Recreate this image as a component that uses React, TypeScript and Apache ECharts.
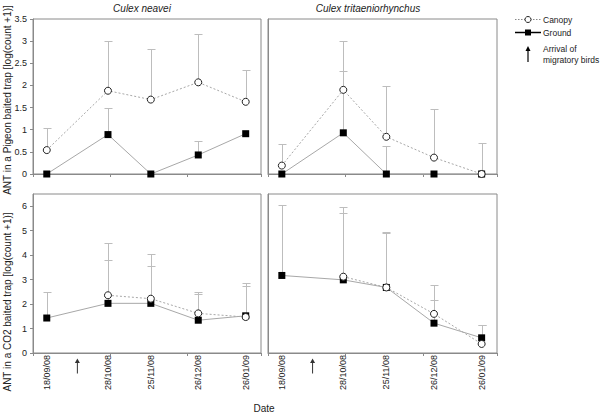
import React, { useEffect, useRef } from "react";
import * as echarts from "echarts";

// ---- Data ----
const dayOffsets = [0, 40, 68, 99, 130]; // days since 18/09/08
const dateLabels = ["18/09/08", "28/10/08", "25/11/08", "26/12/08", "26/01/09"];
const arrivalDay = [20];
const xTickDays = [-9, 41.5, 92, 140];
const speciesTitles = ["Culex neavei", "Culex tritaeniorhynchus"];
const yTitles = ["ANT in a Pigeon baited trap [log(count +1)]", "ANT in a CO2 baited trap [log(count +1)]"];

// Pigeon-baited trap
const neaveiPigeonCanopy = [0.54, 1.88, 1.68, 2.07, 1.63];
const neaveiPigeonCanopyUpper = [1.03, 3.01, 2.83, 3.16, 2.34];
const neaveiPigeonGround = [0, 0.89, 0, 0.43, 0.91];
const neaveiPigeonGroundUpper = [null, 1.48, null, 0.74, null];

const tritPigeonCanopy = [0.19, 1.9, 0.84, 0.37, 0];
const tritPigeonCanopyUpper = [0.68, 3.01, 1.98, 1.47, 0.69];
const tritPigeonGround = [0, 0.93, 0, 0, 0];
const tritPigeonGroundUpper = [null, 2.32, 0.63, null, null];

// CO2-baited trap
const neaveiCO2Canopy = [null, 2.36, 2.22, 1.62, 1.47];
const neaveiCO2CanopyUpper = [null, 4.5, 4.06, 2.5, 2.86];
const neaveiCO2Ground = [1.43, 2.03, 2.03, 1.34, 1.52];
const neaveiCO2GroundUpper = [2.49, 3.81, 3.56, 2.41, 2.75];

const tritCO2Canopy = [null, 3.12, 2.68, 1.6, 0.37];
const tritCO2CanopyUpper = [null, 5.96, 4.96, 2.79, 1.15];
const tritCO2Ground = [3.17, 2.99, 2.68, 1.22, 0.62];
const tritCO2GroundUpper = [6.04, 5.72, 4.9, 2.16, 1.16];

const FONT = "'Liberation Sans', Arial, sans-serif";
const BORDER = "#8a8a8a";
const ERR = "#bdbdbd";
const LINE = "#a8a8a8";
const TEXT = "#222";

function pairs(vals: (number | null)[]) {
  return dayOffsets.map((d, i) => [d, vals[i] === null ? null : vals[i]]);
}
function errData(vals: (number | null)[], upper: (number | null)[]) {
  const out: number[][] = [];
  dayOffsets.forEach((d, i) => {
    const v = vals[i];
    const u = upper[i];
    if (v !== null && u !== null && u > v) out.push([d, v, u]);
  });
  return out;
}

const renderErr = (params: any, api: any) => {
  const x = api.value(0);
  const p0 = api.coord([x, api.value(1)]);
  const p1 = api.coord([x, api.value(2)]);
  const cx = Math.round(p0[0]) + 0.5;
  const ty = Math.round(p1[1]) + 0.5;
  return {
    type: "group",
    children: [
      { type: "line", shape: { x1: cx, y1: p0[1], x2: cx, y2: ty }, style: { stroke: ERR, lineWidth: 1 } },
      { type: "line", shape: { x1: cx - 4, y1: ty, x2: cx + 4, y2: ty }, style: { stroke: ERR, lineWidth: 1 } },
    ],
  };
};

export default function App() {
  const ref = useRef<HTMLDivElement>(null);
  useEffect(() => {
    if (!ref.current) return;
    const chart = echarts.init(ref.current, undefined, { renderer: "svg" });

    const grids = [
      { left: 33, top: 19, width: 228, height: 155 },
      { left: 268, top: 19, width: 229, height: 155 },
      { left: 33, top: 194, width: 228, height: 159 },
      { left: 268, top: 194, width: 229, height: 159 },
    ].map((g) => ({ ...g, show: true, borderColor: BORDER, borderWidth: 1, containLabel: false }));

    const xAxes = grids.map((_, i) => ({
      type: "value",
      gridIndex: i,
      min: -9,
      max: 140,
      splitLine: { show: false },
      axisLine: { show: true, onZero: false, lineStyle: { color: BORDER } },
      axisTick: { show: true, length: 3, customValues: xTickDays, lineStyle: { color: BORDER } },
      axisLabel: {
        show: i >= 2,
        customValues: dayOffsets,
        rotate: 90,
        fontSize: 9,
        fontFamily: FONT,
        color: TEXT,
        margin: 2,
        formatter: (v: number) => {
          const k = dayOffsets.indexOf(Math.round(v));
          return k >= 0 ? dateLabels[k] : "";
        },
      },
    }));

    const yAxes = grids.map((_, i) => {
      const top = i < 2;
      const left = i % 2 === 0;
      return {
        type: "value",
        gridIndex: i,
        min: 0,
        max: top ? 3.5 : 6.5,
        interval: top ? 0.5 : 1,
        splitLine: { show: false },
        axisLine: { show: true, onZero: false, lineStyle: { color: BORDER } },
        axisTick: { show: left, length: 3, lineStyle: { color: BORDER } },
        axisLabel: {
          show: left,
          showMaxLabel: top ? true : false,
          fontSize: 9,
          fontFamily: FONT,
          color: TEXT,
          margin: 6,
        },
      };
    });

    const panels = [
      { c: neaveiPigeonCanopy, cu: neaveiPigeonCanopyUpper, g: neaveiPigeonGround, gu: neaveiPigeonGroundUpper },
      { c: tritPigeonCanopy, cu: tritPigeonCanopyUpper, g: tritPigeonGround, gu: tritPigeonGroundUpper },
      { c: neaveiCO2Canopy, cu: neaveiCO2CanopyUpper, g: neaveiCO2Ground, gu: neaveiCO2GroundUpper },
      { c: tritCO2Canopy, cu: tritCO2CanopyUpper, g: tritCO2Ground, gu: tritCO2GroundUpper },
    ];

    const series: any[] = [];
    panels.forEach((p, i) => {
      series.push({
        type: "custom",
        xAxisIndex: i,
        yAxisIndex: i,
        renderItem: renderErr,
        encode: { x: 0, y: [1, 2] },
        data: errData(p.g, p.gu),
        z: 1,
        clip: false,
      });
      series.push({
        type: "custom",
        xAxisIndex: i,
        yAxisIndex: i,
        renderItem: renderErr,
        encode: { x: 0, y: [1, 2] },
        data: errData(p.c, p.cu),
        z: 1,
        clip: false,
      });
      series.push({
        type: "line",
        name: "Ground",
        xAxisIndex: i,
        yAxisIndex: i,
        data: pairs(p.g),
        symbol: "rect",
        symbolSize: 7,
        showAllSymbol: true,
        lineStyle: { color: LINE, width: 1 },
        itemStyle: { color: "#000", borderColor: "#000", borderWidth: 0 },
        z: 3,
        clip: false,
      });
      series.push({
        type: "line",
        name: "Canopy",
        xAxisIndex: i,
        yAxisIndex: i,
        data: pairs(p.c),
        symbol: "circle",
        symbolSize: 7,
        showAllSymbol: true,
        connectNulls: false,
        lineStyle: { color: LINE, width: 1, type: [2, 2] },
        itemStyle: { color: "#fff", borderColor: "#222", borderWidth: 1 },
        z: 4,
        clip: false,
      });
    });

    // Arrival of migratory birds arrows below the bottom panels
    [2, 3].forEach((i) => {
      series.push({
        type: "scatter",
        xAxisIndex: i,
        yAxisIndex: i,
        data: arrivalDay.map((d) => [d, -0.53]),
        symbol: "path://M5,0 L10,9 L6,9 L6,30 L4,30 L4,9 L0,9 Z",
        symbolSize: [5, 15],
        itemStyle: { color: "#000" },
        clip: false,
        silent: true,
        z: 5,
      });
    });

    const txt = (x: number, y: number, text: string, extra: any = {}) => ({
      type: "text",
      x,
      y,
      style: { text, fontSize: 8.5, fontFamily: FONT, fill: TEXT, ...extra },
    });

    const graphic: any[] = [
      txt(142, 8, speciesTitles[0], { fontSize: 10, fontStyle: "italic", align: "center", verticalAlign: "middle" }),
      txt(368, 8, speciesTitles[1], { fontSize: 10, fontStyle: "italic", align: "center", verticalAlign: "middle" }),
      txt(264, 408, "Date", { fontSize: 10, align: "center", verticalAlign: "middle" }),
      // y-axis titles
      { ...txt(7, 100, yTitles[0], { fontSize: 10, align: "center", verticalAlign: "middle" }), rotation: Math.PI / 2 },
      { ...txt(7, 302, yTitles[1], { fontSize: 10, align: "center", verticalAlign: "middle" }), rotation: Math.PI / 2 },
      // legend: Canopy
      { type: "line", shape: { x1: 515, y1: 19.5, x2: 541, y2: 19.5 }, style: { stroke: "#888", lineWidth: 1, lineDash: [1.5, 1.5] } },
      { type: "circle", shape: { cx: 528, cy: 19.5, r: 3 }, style: { fill: "#fff", stroke: "#222", lineWidth: 1 } },
      txt(543, 19.5, "Canopy", { verticalAlign: "middle" }),
      // legend: Ground
      { type: "line", shape: { x1: 515, y1: 32.5, x2: 541, y2: 32.5 }, style: { stroke: "#000", lineWidth: 1.5 } },
      { type: "rect", shape: { x: 525, y: 29.5, width: 6, height: 6 }, style: { fill: "#000" } },
      txt(543, 32.5, "Ground", { verticalAlign: "middle" }),
      // legend: arrow
      { type: "polygon", shape: { points: [[528, 46], [530.5, 51], [525.5, 51]] }, style: { fill: "#000" } },
      { type: "line", shape: { x1: 528, y1: 50, x2: 528, y2: 62 }, style: { stroke: "#000", lineWidth: 1.2 } },
      txt(543, 49, "Arrival of", { verticalAlign: "middle" }),
      txt(543, 60, "migratory birds", { verticalAlign: "middle" }),
    ];

    chart.setOption({
      animation: false,
      backgroundColor: "#fff",
      textStyle: { fontFamily: FONT },
      grid: grids,
      xAxis: xAxes,
      yAxis: yAxes,
      series,
      graphic,
    });
    return () => chart.dispose();
  }, []);

  return <div ref={ref} style={{ position: "absolute", left: 0, top: 0, width: 600, height: 414, background: "#fff" }} />;
}
